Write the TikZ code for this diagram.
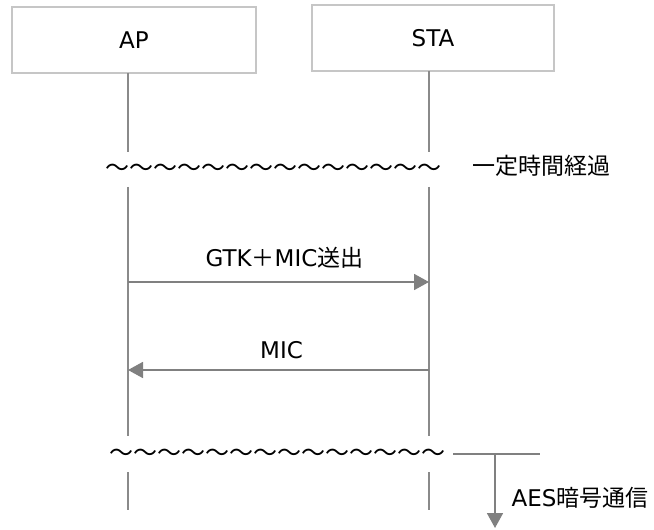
\documentclass[tikz,border=0pt]{standalone}
\usepackage{fontspec}
\setmainfont{DejaVu Sans}
\newfontfamily\cjk{Noto Sans CJK JP}
\usetikzlibrary{arrows.meta}
\definecolor{boxgray}{HTML}{C6C6C6}
\definecolor{linegray}{HTML}{8A8A8A}
\definecolor{arrgray}{HTML}{808080}
\tikzset{
  actor/.style={draw=boxgray, line width=1.6bp, fill=white, minimum width=#1, minimum height=66bp, inner sep=0pt, font=\fontsize{23bp}{26bp}\selectfont},
  life/.style={draw=linegray, line width=1.3bp},
  msg/.style={draw=arrgray, line width=1.8bp, -{Triangle[length=15bp,width=16bp]}},
  lbl/.style={inner sep=0pt, font=\fontsize{23bp}{26bp}\selectfont},
  wave/.style={inner sep=0pt, font=\cjk\fontsize{24bp}{26bp}\selectfont}
}
\begin{document}
\begin{tikzpicture}[x=1bp,y=-1bp]
\useasboundingbox (0,0) rectangle (654,530);
% actors
\node[actor=244bp] (AP) at (134,40) {AP};
\node[actor=242bp] (STA) at (433,38) {STA};
% lifeline coordinates
\coordinate (a0) at (128,73);  \coordinate (a1) at (128,152);
\coordinate (a2) at (128,187); \coordinate (a3) at (128,436);
\coordinate (a4) at (128,472); \coordinate (a5) at (128,510);
\coordinate (s0) at (429,71);  \coordinate (s1) at (429,152);
\coordinate (s2) at (429,187); \coordinate (s3) at (429,436);
\coordinate (s4) at (429,472); \coordinate (s5) at (429,510);
\draw[life] (a0) -- (a1) (a2) -- (a3) (a4) -- (a5);
\draw[life] (s0) -- (s1) (s2) -- (s3) (s4) -- (s5);
% time gap
\node[wave] (w1) at (273.5,170) {～～～～～～～～～～～～～～};
\node[lbl] (t1) at (541.5,166) {\cjk 一定時間経過};
% messages
\coordinate (m1a) at (128,282); \coordinate (m1s) at (429,282);
\coordinate (m2a) at (128,370); \coordinate (m2s) at (429,370);
\node[lbl] (g) at (284.5,258) {GTK{\cjk ＋}MIC{\cjk 送出}};
\draw[msg] (m1a) -- (m1s);
\node[lbl] (mic) at (281.5,350) {MIC};
\draw[msg] (m2s) -- (m2a);
% bottom gap
\node[wave] (w2) at (277.5,455) {～～～～～～～～～～～～～～};
\coordinate (h0) at (453,454); \coordinate (h1) at (540,454);
\coordinate (v0) at (495,454); \coordinate (v1) at (495,528);
\draw[draw=arrgray, line width=1.8bp] (h0) -- (h1);
\draw[msg] (v0) -- (v1);
\node[lbl] (aes) at (580,498) {AES{\cjk 暗号通信}};
\end{tikzpicture}
\end{document}
